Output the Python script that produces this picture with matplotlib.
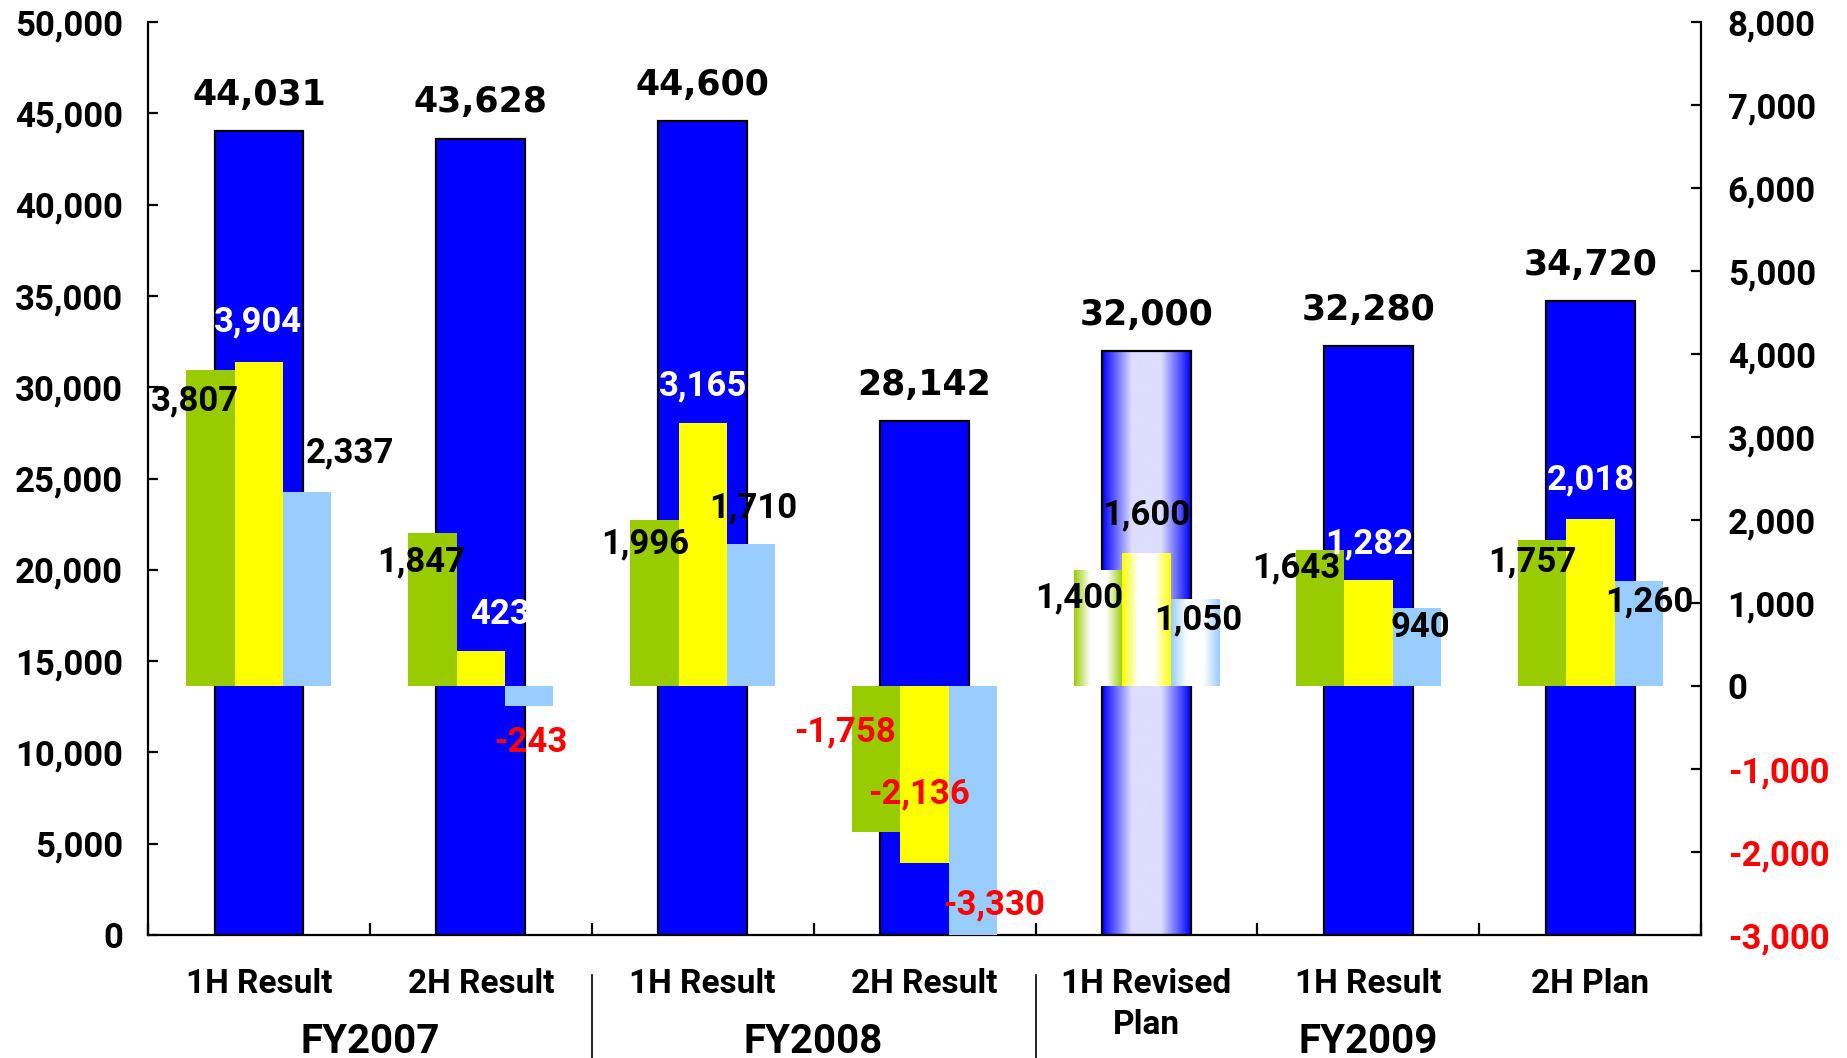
import numpy as np
import matplotlib
matplotlib.use("Agg")
import matplotlib.pyplot as plt
from matplotlib.colors import LinearSegmentedColormap
from matplotlib.transforms import blended_transform_factory

# ---- data -------------------------------------------------------------
categories = ["1H Result", "2H Result", "1H Result", "2H Result",
              "1H Revised\nPlan", "1H Result", "2H Plan"]
fiscal_years = ["FY2007", "FY2008", "FY2009"]
net_sales = [44031, 43628, 44600, 28142, 32000, 32280, 34720]          # left axis
operating_income = [3807, 1847, 1996, -1758, 1400, 1643, 1757]        # right axis
ordinary_income = [3904, 423, 3165, -2136, 1600, 1282, 2018]
net_income = [2337, -243, 1710, -3330, 1050, 940, 1260]
left_ticks = [0, 5000, 10000, 15000, 20000, 25000, 30000, 35000, 40000, 45000, 50000]
right_ticks = [-3000, -2000, -1000, 0, 1000, 2000, 3000, 4000, 5000, 6000, 7000, 8000]
plan_index = 4  # the revised-plan column is drawn with gradient fills

# ---- style ------------------------------------------------------------
BLUE = "#0000FF"
GREEN = "#99CC00"
YELLOW = "#FFFF00"
LIGHTBLUE = "#99CCFF"
NUM_FONT = "Roboto"
CAT_FONT = "Roboto"

fig = plt.figure(figsize=(18.47, 10.58), dpi=100)
ax = fig.add_axes([0.0801, 0.1163, 0.8410, 0.8627])
ax2 = ax.twinx()

x = np.arange(len(categories))
big_w = 0.40
small_w = 0.218
offsets = [-small_w, 0.0, small_w]


def gradient_fill(axis, patch, color, center_color, zorder):
    """Paint a horizontal colour->light->colour gradient clipped to a bar."""
    cmap = LinearSegmentedColormap.from_list(
        "g", [color, center_color, center_color, color], N=256)
    bx, by = patch.get_x(), patch.get_y()
    bw, bh = patch.get_width(), patch.get_height()
    grad = np.linspace(0, 1, 256).reshape(1, -1)
    im = axis.imshow(grad, cmap=cmap, aspect="auto", interpolation="bicubic",
                     extent=[bx, bx + bw, by, by + bh], zorder=zorder)
    im.set_clip_path(patch)
    patch.set_facecolor("none")


# ---- net sales bars (left axis) ---------------------------------------
bars = ax.bar(x, net_sales, width=big_w, color=BLUE, edgecolor="black",
              linewidth=1.6, zorder=2)
gradient_fill(ax, bars[plan_index], BLUE, "#DDDDFF", zorder=1.9)

for xi, v in zip(x, net_sales):
    ax.annotate(f"{v:,}", (xi, v), xytext=(0, 26), textcoords="offset points",
                ha="center", va="center", fontsize=25, fontweight="bold",
                family="DejaVu Sans", color="black", zorder=5)

ax.set_xlim(-0.5, len(categories) - 0.5)
ax.set_ylim(0, 50000)
ax.set_yticks(left_ticks)
ax.set_yticklabels([f"{t:,}" for t in left_ticks])

# ---- income bars (right axis) -----------------------------------------
series = [operating_income, ordinary_income, net_income]
colors = [GREEN, YELLOW, LIGHTBLUE]
for vals, off, col in zip(series, offsets, colors):
    bs = ax2.bar(x + off, vals, width=small_w, color=col, linewidth=0, zorder=2)
    gradient_fill(ax2, bs[plan_index], col, "#FFFFFF", zorder=1.9)

# label placement relative to each bar (x in category units, y in right-axis units)
label_dx = [[-0.07, -0.05, -0.04, -0.14, -0.085, -0.107, -0.045],
            [-0.006, 0.088, 0.001, -0.027, -0.002, 0.002, 0.0],
            [0.193, 0.006, 0.01, 0.093, 0.017, 0.015, 0.046]]
label_dy = [[-372, -357, -278, 1204, -335, -224, -267],
            [482, 443, 455, 830, 458, 436, 466],
            [473, -438, 433, 690, -255, -230, -252]]
for s, (vals, off) in enumerate(zip(series, offsets)):
    for i, v in enumerate(vals):
        if v < 0:
            tc = "#FF0000"
        elif s == 1 and i != plan_index:
            tc = "white"
        else:
            tc = "black"
        ax2.text(i + off + label_dx[s][i], v + label_dy[s][i], f"{v:,}",
                 ha="center", va="center", fontsize=25, fontweight="bold",
                 family=NUM_FONT, color=tc, zorder=6)

ax2.set_ylim(-3000, 8000)
ax2.set_yticks(right_ticks)
ax2.set_yticklabels([f"{t:,}" for t in right_ticks])
for t, lab in zip(right_ticks, ax2.get_yticklabels()):
    lab.set_color("#FF0000" if t < 0 else "black")

# ---- axes cosmetics ---------------------------------------------------
for a in (ax, ax2):
    a.spines["top"].set_visible(False)
    for sp in ("left", "right", "bottom"):
        a.spines[sp].set_linewidth(1.6)
ax.spines["right"].set_visible(False)
ax2.spines["left"].set_visible(False)
ax2.spines["bottom"].set_visible(False)

ax.tick_params(axis="y", direction="in", length=7, width=1.6, pad=18,
               labelsize=25)
ax2.tick_params(axis="y", direction="in", length=7, width=1.6, pad=19,
                labelsize=25)
for lab in ax.get_yticklabels() + ax2.get_yticklabels():
    lab.set_fontfamily(NUM_FONT)
    lab.set_fontweight("bold")

# boundary tick marks on the category axis, category names drawn separately
ax.set_xticks(np.arange(-0.5, len(categories) + 0.5, 1.0))
ax.set_xticklabels([])
ax.tick_params(axis="x", direction="in", length=9, width=1.6)

tr = blended_transform_factory(ax.transData, fig.transFigure)
for xi, name in zip(x, categories):
    lines = name.split("\n")
    ys = [0.070, 0.031][:len(lines)]
    for ln, yy in zip(lines, ys):
        ax.text(xi, yy, ln, transform=tr, ha="center", va="center",
                fontsize=24, fontweight="bold", family=CAT_FONT, clip_on=False)

for xc, fy in zip([0.5, 2.5, 5.0], fiscal_years):
    ax.text(xc, 0.015, fy, transform=tr, ha="center", va="center",
            fontsize=29, fontweight="bold", family=CAT_FONT, clip_on=False)

for xs in (1.5, 3.5):
    ax.plot([xs, xs], [0.0, 0.0785], transform=tr, color="black",
            linewidth=1.2, clip_on=False)

ax2.set_zorder(ax.get_zorder() + 1)
ax2.patch.set_visible(False)

fig.savefig("out.png", dpi=100)
